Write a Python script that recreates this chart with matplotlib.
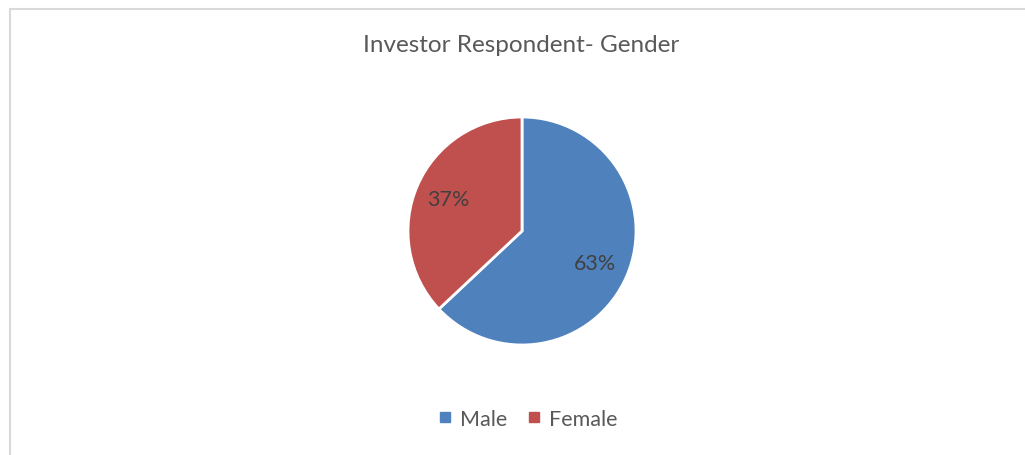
import matplotlib
matplotlib.use("Agg")
import matplotlib.pyplot as plt
from matplotlib.patches import Rectangle
from matplotlib.lines import Line2D

title = "Investor Respondent- Gender"
labels = ["Male", "Female"]
values = [63, 37]
colors = ["#4F81BD", "#C0504D"]

plt.rcParams['font.family'] = ['Lato', 'DejaVu Sans']

W, H = 1025, 456
fig = plt.figure(figsize=(W / 100, H / 100), dpi=100)
fig.patch.set_facecolor("white")

# outer frame (extends beyond right/bottom edges)
fig.patches.append(Rectangle((9.5 / W, -0.1), 1.2, 1 - 10 / H + 0.1,
                             transform=fig.transFigure, fill=False,
                             edgecolor="#D9D9D9", linewidth=1.5))

cx, cy, r = 522, 232, 114
ax = fig.add_axes([(cx - r) / W, (H - cy - r) / H, 2 * r / W, 2 * r / H])
wedges, texts, autotexts = ax.pie(
    values, colors=colors, startangle=90, counterclock=False,
    autopct=lambda p: f"{p:.0f}%", pctdistance=0.7,
    wedgeprops=dict(edgecolor="white", linewidth=2),
    textprops=dict(color="#404040", fontsize=15.5))
ax.set_xlim(-1, 1)
ax.set_ylim(-1, 1)
ax.set_aspect("equal")
ax.axis("off")

fig.text(521 / W, 1 - 46 / H, title, ha="center", va="center",
         fontsize=17.5, color="#595959")

handles = [Line2D([], [], marker="s", linestyle="none", markersize=7,
                  markerfacecolor=c, markeredgecolor=c) for c in colors]
fig.legend(handles, labels, loc="center", bbox_to_anchor=(528 / W, 1 - 420 / H),
           ncol=2, frameon=False, fontsize=15.5, labelcolor="#595959",
           handlelength=0.6, handletextpad=0.4, columnspacing=0.9)

fig.savefig("out.png", dpi=100, facecolor="white")
